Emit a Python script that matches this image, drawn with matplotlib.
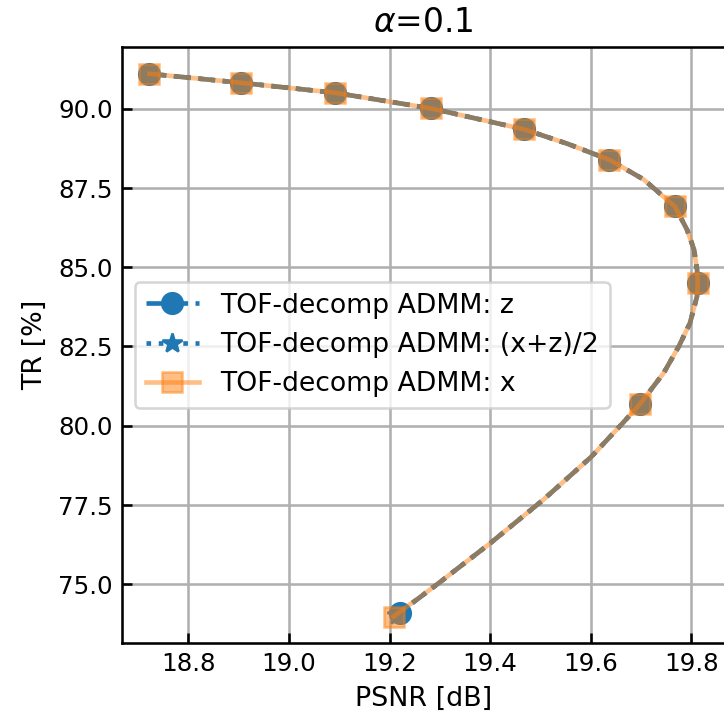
import numpy as np
import matplotlib.pyplot as plt

# PSNR / TR trade-off curve, alpha = 0.1
psnr_z = [18.723, 18.905, 19.092, 19.283, 19.468, 19.553, 19.637, 19.705,
          19.767, 19.791, 19.805, 19.811, 19.8125, 19.811, 19.797, 19.775,
          19.745, 19.697, 19.662, 19.601, 19.506, 19.400, 19.295, 19.220]
tr_z = [91.105, 90.82, 90.505, 90.01, 89.35, 88.90, 88.39, 87.77,
        86.92, 86.19, 85.56, 84.93, 84.51, 84.08, 83.24, 82.51,
        81.67, 80.67, 80.06, 79.02, 77.67, 76.29, 75.00, 74.10]

psnr_mid = psnr_z[:-1] + [19.214]
tr_mid = tr_z[:-1] + [74.04]

psnr_x = psnr_z[:-1] + [19.208]
tr_x = tr_z[:-1] + [73.98]

# points where the outer iterations were recorded
marks = [0, 1, 2, 3, 4, 6, 8, 12, 17, 23]

dpi = 185
fig = plt.figure(figsize=(724.2 / dpi, 719.2 / dpi), dpi=dpi)
ax = fig.add_axes([0.1681, 0.1057, 0.8333, 0.8289])

ax.plot(psnr_z, tr_z, '--o', color='C0', lw=1.8, ms=8, markevery=marks,
        label='TOF-decomp ADMM: z')
ax.plot(psnr_mid, tr_mid, ':*', color='C0', lw=1.8, ms=8, markevery=marks,
        label='TOF-decomp ADMM: (x+z)/2')
ax.plot(psnr_x, tr_x, '-s', color='C1', lw=1.8, ms=8, markevery=marks,
        alpha=0.5, label='TOF-decomp ADMM: x')

ax.set_xlim(18.668, 19.867)
ax.set_ylim(73.145, 91.955)
ax.set_xticks([18.8, 19.0, 19.2, 19.4, 19.6, 19.8])
ax.set_yticks([75.0, 77.5, 80.0, 82.5, 85.0, 87.5, 90.0])
ax.tick_params(direction='in', length=4, width=1.0, labelsize=9.6)
for sp in ax.spines.values():
    sp.set_linewidth(1.0)
ax.grid(True, lw=1.0)
ax.set_axisbelow(True)

ax.set_xlabel('PSNR [dB]', fontsize=10.5)
ax.set_ylabel('TR [%]', fontsize=10.5)
ax.set_title(r'$\alpha$=0.1', fontsize=12.8)
ax.legend(loc='center left', fontsize=10.35)

fig.savefig('out.png', dpi=dpi)
